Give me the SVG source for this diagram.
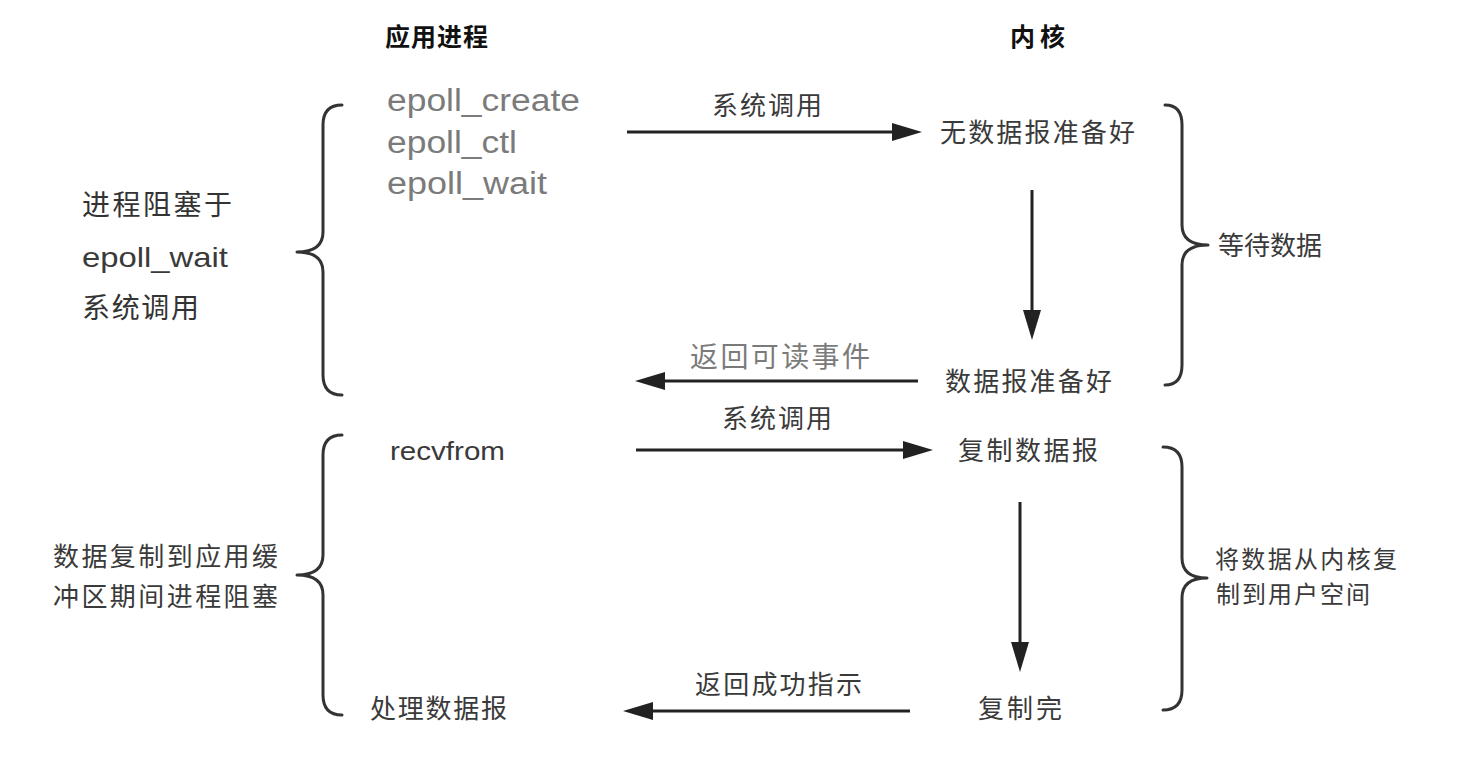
<svg xmlns="http://www.w3.org/2000/svg" width="1474" height="762" viewBox="0 0 1474 762">
<style>
text{font-family:"Liberation Sans","Noto Sans CJK SC",sans-serif;fill:#3a3a3a}
.cjk{font-family:"Noto Sans CJK SC","Noto Sans",sans-serif}
.hd{font-weight:bold;fill:#111;font-size:25px}
.m{font-size:26px}
.s{font-size:24px}
.l{font-size:28px}
.g{fill:#7b7b7b}
.ep{font-size:31px;fill:#7b7b7b}
.brace{fill:none;stroke:#333;stroke-width:3;stroke-linecap:round;stroke-linejoin:round}
.arr{stroke:#222;stroke-width:3;fill:none;marker-end:url(#ah)}
</style>
<defs>
<marker id="ah" markerUnits="userSpaceOnUse" viewBox="0 0 30 18" refX="6" refY="9" markerWidth="30" markerHeight="18" orient="auto">
<path d="M0,0 L30,9 L0,18 z" fill="#222"/>
</marker>
</defs>
<rect width="1474" height="762" fill="#fff"/>
<g id="headers">
<text class="cjk hd" x="385" y="46" textLength="103" lengthAdjust="spacing">应用进程</text>
<text class="cjk hd" x="1010" y="46" textLength="55" lengthAdjust="spacing">内核</text>
</g>
<g id="app-calls">
<text class="ep" x="387" y="111" textLength="193" lengthAdjust="spacingAndGlyphs">epoll_create</text>
<text class="ep" x="387" y="153" textLength="130" lengthAdjust="spacingAndGlyphs">epoll_ctl</text>
<text class="ep" x="387" y="194" textLength="160" lengthAdjust="spacingAndGlyphs">epoll_wait</text>
</g>
<g id="block1-label">
<text class="cjk l" x="82" y="215" textLength="150" lengthAdjust="spacing" style="fill:#333">进程阻塞于</text>
<text class="l" x="82" y="267" textLength="146" lengthAdjust="spacingAndGlyphs">epoll_wait</text>
<text class="cjk l" x="82" y="318" textLength="117" lengthAdjust="spacing" style="fill:#333">系统调用</text>
</g>
<g id="no-data">
<text class="cjk m" x="940" y="142" textLength="195" lengthAdjust="spacing">无数据报准备好</text>
</g>
<g id="data-ready">
<text class="cjk m" x="945" y="391" textLength="167" lengthAdjust="spacing">数据报准备好</text>
</g>
<g id="wait-label">
<text class="cjk m" x="1218" y="255" textLength="104" lengthAdjust="spacing">等待数据</text>
</g>
<g id="recvfrom">
<text class="m" x="390" y="460" textLength="115" lengthAdjust="spacingAndGlyphs">recvfrom</text>
</g>
<g id="copy-data">
<text class="cjk m" x="958" y="460" textLength="140" lengthAdjust="spacing">复制数据报</text>
</g>
<g id="copy-done">
<text class="cjk m" x="978" y="718" textLength="84" lengthAdjust="spacing">复制完</text>
</g>
<g id="process-data">
<text class="cjk m" x="370" y="718" textLength="137" lengthAdjust="spacing">处理数据报</text>
</g>
<g id="block2-label">
<text class="cjk m" x="53" y="566" textLength="225" lengthAdjust="spacing">数据复制到应用缓</text>
<text class="cjk m" x="53" y="606" textLength="225" lengthAdjust="spacing">冲区期间进程阻塞</text>
</g>
<g id="copy-label">
<text class="cjk s" x="1215" y="568" textLength="182" lengthAdjust="spacing">将数据从内核复</text>
<text class="cjk s" x="1216" y="603" textLength="154" lengthAdjust="spacing">制到用户空间</text>
</g>
<g id="braces">
<path class="brace" d="M342,105 Q323,105 323,125 L323,232 Q323,252 297,252 Q323,252 323,272 L323,375 Q323,395 342,395"/>
<path class="brace" d="M342,435 Q323,435 323,455 L323,555 Q323,575 297,575 Q323,575 323,595 L323,695 Q323,715 342,715"/>
<path class="brace" d="M1165,105 Q1182,105 1182,125 L1182,225 Q1182,245 1208,245 Q1182,245 1182,265 L1182,365 Q1182,385 1165,385"/>
<path class="brace" d="M1163,447 Q1182,447 1182,467 L1182,558 Q1182,578 1207,578 Q1182,578 1182,598 L1182,690 Q1182,710 1163,710"/>
</g>
<g id="connectors">
<line class="arr" x1="627" y1="132" x2="898" y2="132"/>
<text class="cjk m" x="712" y="115" textLength="110" lengthAdjust="spacing">系统调用</text>
<line class="arr" x1="1032" y1="190" x2="1032" y2="316"/>
<line class="arr" x1="918" y1="381" x2="659" y2="381"/>
<text class="cjk l g" x="690" y="367" textLength="180" lengthAdjust="spacing">返回可读事件</text>
<line class="arr" x1="636" y1="450" x2="909" y2="450"/>
<text class="cjk m" x="722" y="428" textLength="110" lengthAdjust="spacing">系统调用</text>
<line class="arr" x1="1020" y1="502" x2="1020" y2="648"/>
<line class="arr" x1="910" y1="711" x2="647" y2="711"/>
<text class="cjk m" x="695" y="694" textLength="167" lengthAdjust="spacing">返回成功指示</text>
</g>
</svg>
